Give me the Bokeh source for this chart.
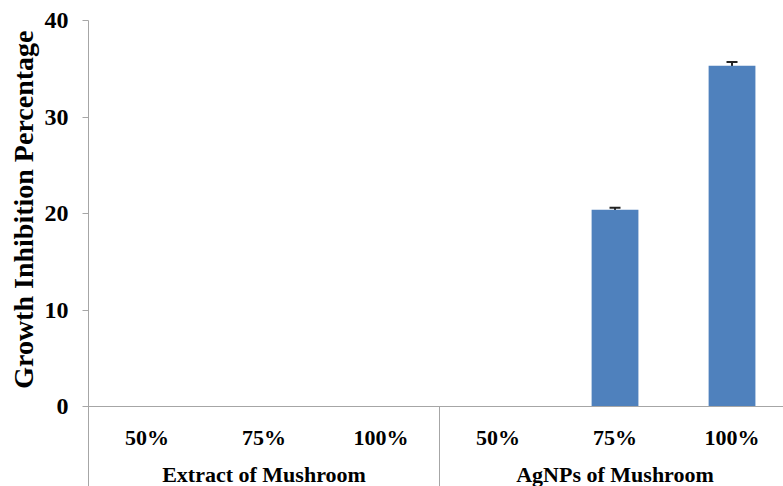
from bokeh.plotting import figure
from bokeh.models import FixedTicker, Span, Whisker, ColumnDataSource, TeeHead, Title
from bokeh.core.properties import value
from bokeh.embed import file_html
from bokeh.resources import INLINE

# Data
groups = ["Extract of Mushroom", "AgNPs of Mushroom"]
concentrations = ["50%", "75%", "100%"]
inhibition = [0, 0, 0, 0, 20.4, 35.3]
inhibition_err = [0, 0, 0, 0, 0.2, 0.4]
y_ticks = [0, 10, 20, 30, 40]

FONT = "Liberation Serif"
BAR_COLOR = "#4F81BD"
AXIS_COLOR = "#A6A6A6"

n = len(groups) * len(concentrations)
xs = [i + 0.5 for i in range(n)]
cat_labels = concentrations * len(groups)

p = figure(width=783, height=486, output_backend="svg", toolbar_location=None,
           x_range=(0, 5.94), y_range=(-8.29, 40),
           min_border_left=88, min_border_right=0, min_border_top=20, min_border_bottom=0)
p.outline_line_color = None
p.xgrid.visible = False
p.ygrid.visible = False
p.xaxis.visible = False

ax = p.yaxis[0]
ax.ticker = FixedTicker(ticks=y_ticks)
ax.axis_line_color = AXIS_COLOR
ax.major_tick_line_color = AXIS_COLOR
ax.major_tick_out = 6
ax.major_tick_in = 0
ax.minor_tick_line_color = None
ax.major_label_text_font = FONT
ax.major_label_text_font_style = "bold"
ax.major_label_text_font_size = "24px"
ax.major_label_text_color = "black"
ax.major_label_standoff = 14

# Axis title, anchored near the top of the value span
p.add_layout(Title(text="Growth Inhibition Percentage", align="right", offset=10,
                   text_font=FONT, text_font_style="bold", text_font_size="28px",
                   text_color="black", standoff=5), "left")

src = ColumnDataSource(dict(x=xs, top=inhibition))
p.vbar(x="x", top="top", width=0.4, source=src, fill_color=BAR_COLOR,
       line_color=None)

err_src = ColumnDataSource(dict(
    x=xs[4:],
    upper=[v + e for v, e in zip(inhibition[4:], inhibition_err[4:])],
    lower=[v - e for v, e in zip(inhibition[4:], inhibition_err[4:])]))
p.add_layout(Whisker(base="x", upper="upper", lower="lower", source=err_src,
                     line_color="#222222", line_width=2,
                     upper_head=TeeHead(size=11, line_color="#222222", line_width=2),
                     lower_head=TeeHead(size=11, line_color="#222222", line_width=2)))

# Category axis line and group separator
p.add_layout(Span(location=0, dimension="width", line_color=AXIS_COLOR, line_width=1))
p.segment(x0=[3], y0=[0], x1=[3], y1=[-8.29], line_color=AXIS_COLOR, line_width=1)

p.text(x=xs, y=[-3.2] * n, text=cat_labels, text_font=value(FONT),
       text_font_style="bold", text_font_size="22px", text_align="center",
       text_baseline="middle", text_color="black")
p.text(x=[1.5, 4.5], y=[-7.0] * 2, text=groups, text_font=value(FONT),
       text_font_style="bold", text_font_size="22px", text_align="center",
       text_baseline="middle", text_color="black")

open("out.html", "w").write(file_html(p, INLINE))
